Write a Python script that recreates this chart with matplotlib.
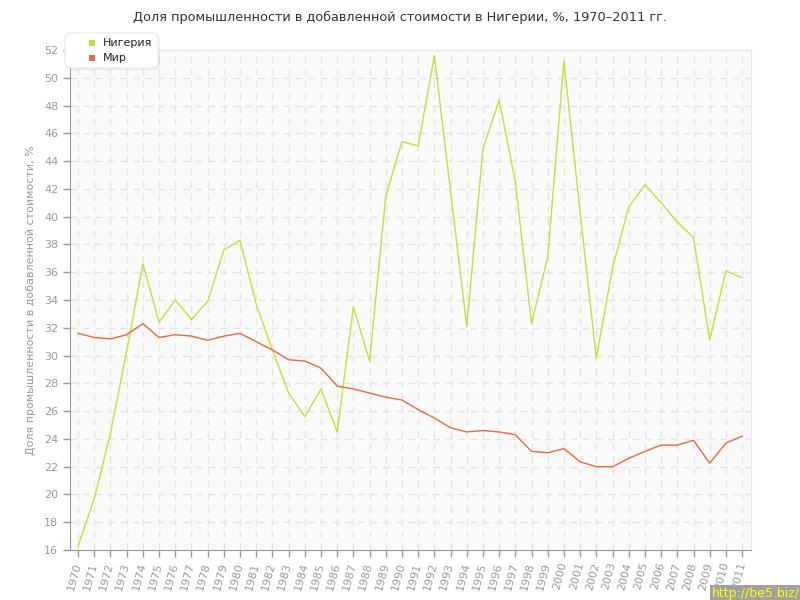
import matplotlib.pyplot as plt
from matplotlib.patches import FancyBboxPatch, Rectangle

years = list(range(1970, 2012))

nigeria = [16.3, 19.7, 24.4, 30.3, 36.6, 32.4, 34.0, 32.6, 33.9, 37.6,
           38.3, 33.7, 30.4, 27.3, 25.6, 27.6, 24.5, 33.5, 29.6, 41.5,
           45.4, 45.1, 51.6, 41.8, 32.1, 44.9, 48.4, 42.5, 32.3, 37.1,
           51.2, 40.3, 29.8, 36.3, 40.7, 42.3, 41.0, 39.6, 38.5, 31.1,
           36.1, 35.6]

world = [31.6, 31.3, 31.2, 31.5, 32.3, 31.3, 31.5, 31.4, 31.1, 31.4,
         31.6, 31.0, 30.4, 29.7, 29.6, 29.1, 27.8, 27.6, 27.3, 27.0,
         26.8, 26.1, 25.5, 24.8, 24.5, 24.6, 24.5, 24.3, 23.1, 23.0,
         23.3, 22.35, 22.0, 22.0, 22.6, 23.1, 23.55, 23.55, 23.9, 22.25,
         23.7, 24.2]

series_names = ['Нигерия', 'Мир']
y_ticks = list(range(16, 53, 2))

green = '#c2e03c'
orange = '#e8693a'
gray = '#999999'
W, H = 800, 600

fig = plt.figure(figsize=(8, 6), dpi=100)
ax = fig.add_axes([70/W, 1 - 550/H, 681/W, 500/H])
ax.set_facecolor('#fafafa')

ax.plot(years, nigeria, color=green, lw=1.0)
ax.plot(years, world, color=orange, lw=1.0)

ax.set_xlim(1969.5, 2011.55)
ax.set_ylim(16, 52)
ax.set_xticks(years)
ax.set_xticklabels([str(y) for y in years], rotation=75, ha='right', va='center',
                   rotation_mode='anchor', color=gray, fontsize=8)
ax.set_yticks(y_ticks)
ax.set_yticklabels([str(v) for v in y_ticks], color=gray, fontsize=8)
ax.tick_params(axis='both', color=gray, length=5, width=1)
ax.tick_params(axis='x', pad=4)

ax.grid(True, color='#e4e4e4', ls=(0, (5, 4)), lw=1)
ax.set_axisbelow(True)

for side in ['top', 'right']:
    ax.spines[side].set_color('#e6e6e6')
for side in ['left', 'bottom']:
    ax.spines[side].set_color(gray)

ax.set_ylabel('Доля промышленности в добавленной стоимости, %', color=gray, fontsize=8, labelpad=6)

fig.text(0.5, 1 - 17/H, 'Доля промышленности в добавленной стоимости в Нигерии, %, 1970–2011 гг.',
         ha='center', va='center', fontsize=9.3, color='#333333')

# legend box drawn by hand so it sits like the original
x0, y0, x1, y1 = 65, 33, 158, 68
shadow = FancyBboxPatch(((x0 + 2)/W, 1 - (y1 + 2)/H), (x1 - x0)/W, (y1 - y0)/H,
                        boxstyle='round,pad=0,rounding_size=0.008', transform=fig.transFigure,
                        fc='#000000', ec='none', alpha=0.06, zorder=9)
box = FancyBboxPatch((x0/W, 1 - y1/H), (x1 - x0)/W, (y1 - y0)/H,
                     boxstyle='round,pad=0,rounding_size=0.008', transform=fig.transFigure,
                     fc='white', ec='#ececec', lw=1, zorder=10)
fig.patches.extend([shadow, box])
for i, (name, c) in enumerate(zip(series_names, [green, orange])):
    yc = 43 + i * 15
    fig.patches.append(Rectangle(((89)/W, 1 - (yc + 3)/H), 6/W, 6/H, transform=fig.transFigure,
                                 fc=c, ec='none', zorder=11))
    fig.text(103/W, 1 - yc/H, name, ha='left', va='center', fontsize=8, color='#222222', zorder=12)

fig.text(1.0, 0.0, 'http://be5.biz/', ha='right', va='bottom', fontsize=9, color='#ffff00',
         bbox=dict(boxstyle='square,pad=0.15', fc='#a0a0a0', ec='none'))

fig.savefig('out.png', dpi=100)
